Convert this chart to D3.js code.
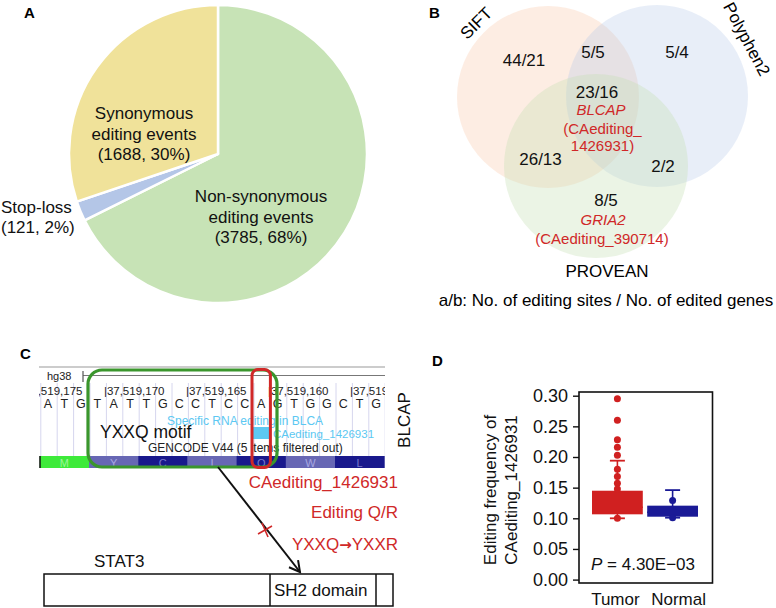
<!DOCTYPE html>
<html><head><meta charset="utf-8">
<script src="https://cdn.jsdelivr.net/npm/d3@7"></script>
<style>body{margin:0;background:#fff} svg{display:block} text{font-family:"Liberation Sans",Arial,sans-serif}</style>
</head><body>
<svg id="c" width="776" height="608"></svg>
<script>
// ---------------- DATA ----------------
const pieCategories = ["Non-synonymous editing events", "Stop-loss", "Synonymous editing events"];
const pieValues = [3785, 121, 1688];
const piePercents = ["68%", "2%", "30%"];

const vennSets = ["SIFT", "Polyphen2", "PROVEAN"];
const vennCounts = ["44/21", "5/5", "5/4", "23/16", "26/13", "2/2", "8/5"];
const vennGenes = ["BLCAP", "GRIA2"];
const vennSites = ["CAediting_1426931", "CAediting_390714"];

const bases = ["A","T","G","T","A","T","T","G","C","C","T","C","C","A","G","T","G","G","C","T","G"];
const aminoAcids = ["M","Y","C","I","Q","W","L"];
const coordLabels = ["|37,519,175","|37,519,170","|37,519,165","|37,519,160","|37,519,155"];

const boxGroups = ["Tumor", "Normal"];
const boxQ1 = [0.1065, 0.1026];
const boxMedian = [0.118, 0.110];
const boxQ3 = [0.145, 0.1206];
const boxLow = [0.100, 0.101];
const boxHigh = [0.194, 0.146];
const tumorPoints = [0.295, 0.260, 0.228, 0.216, 0.203, 0.180, 0.168, 0.157, 0.148, 0.100];
const normalPoints = [0.129, 0.101];
const yTicks = [0.00, 0.05, 0.10, 0.15, 0.20, 0.25, 0.30];
const pValueText = "4.30E\u221203";

// ---------------- DRAW ----------------
const svg = d3.select("#c");
const F = '"Liberation Sans",Arial,sans-serif';
const RED = "#d02828";

function label(t, x, y) {
  svg.append("text").attr("x", x).attr("y", y).attr("font-size", 15).attr("font-weight", "bold").text(t);
}
label("A", 24, 18); label("B", 429, 18); label("C", 20, 359); label("D", 432, 366);

// ---- Panel A: pie ----
const pieColors = ["#c7e3b6", "#b4c6e7", "#f0e29a"];
const pieGen = d3.pie().sort(null).value(d => d)(pieValues);
const arc = d3.arc().innerRadius(0).outerRadius(149);
const gA = svg.append("g").attr("transform", "translate(218,154)");
gA.selectAll("path").data(pieGen).join("path")
  .attr("d", arc).attr("fill", (d, i) => pieColors[i])
  .attr("stroke", "#fff").attr("stroke-width", 2.5).attr("stroke-linejoin", "round");

function multiline(lines, x, ys, anchor, size, fill, style) {
  lines.forEach((l, i) => {
    svg.append("text").attr("x", x).attr("y", ys[i]).attr("text-anchor", anchor)
      .attr("font-size", size).attr("fill", fill || "#111").attr("font-style", style || "normal").text(l);
  });
}
multiline(["Synonymous", "editing events", `(${pieValues[2]}, ${piePercents[2]})`], 144, [119, 139.5, 160], "middle", 17);
multiline(["Non-synonymous", "editing events", `(${pieValues[0]}, ${piePercents[0]})`], 261, [202, 223, 243], "middle", 17);
multiline(["Stop-loss", `(${pieValues[1]}, ${piePercents[1]})`], 1, [213, 233], "start", 17);

// ---- Panel B: Venn ----
const vennCircles = [
  {cx: 548, cy: 97, r: 91, fill: "#f8cbad", op: 0.34},
  {cx: 657, cy: 96, r: 91, fill: "#b4c7e7", op: 0.3},
  {cx: 596, cy: 166, r: 92, fill: "#c5e0b4", op: 0.34}
];
svg.append("g").selectAll("circle").data(vennCircles).join("circle")
  .attr("cx", d => d.cx).attr("cy", d => d.cy).attr("r", d => d.r)
  .attr("fill", d => d.fill).attr("fill-opacity", d => d.op);

svg.append("text").attr("transform", "translate(476,23) rotate(-45)").attr("y", 6)
  .attr("text-anchor", "middle").attr("font-size", 17).text(vennSets[0]);
svg.append("text").attr("transform", "translate(747,39) rotate(62)").attr("y", 6)
  .attr("text-anchor", "middle").attr("font-size", 17).text(vennSets[1]);
svg.append("text").attr("x", 607).attr("y", 277).attr("text-anchor", "middle").attr("font-size", 17).text(vennSets[2]);

const countPos = [[524, 66], [593, 57.5], [677, 57.5], [597, 98], [540.5, 165], [663, 172], [606, 206]];
vennCounts.forEach((c, i) => {
  svg.append("text").attr("x", countPos[i][0]).attr("y", countPos[i][1]).attr("text-anchor", "middle")
    .attr("font-size", 17).attr("fill", "#111").text(c);
});
multiline([vennGenes[0]], 601, [114.5], "middle", 15, RED, "italic");
const s0 = vennSites[0].split("_");
multiline([`(${s0[0]}_`, `${s0[1]})`], 602.5, [134, 151], "middle", 15, RED);
multiline([vennGenes[1]], 603, [224.5], "middle", 15, RED, "italic");
multiline([`(${vennSites[1]})`], 602, [243.5], "middle", 15, RED);
svg.append("text").attr("x", 606).attr("y", 306).attr("text-anchor", "middle").attr("font-size", 17)
  .text("a/b: No. of editing sites / No. of edited genes");

// ---- Panel C: genome browser ----
const trackL = 39.8, trackR = 384.2;
const xb = d3.scaleLinear().domain([0, bases.length]).range([trackL, trackR]);
const xaa = d3.scaleBand().domain(d3.range(aminoAcids.length)).range([trackL, trackR]);
svg.append("defs").append("clipPath").attr("id", "trk").append("rect")
  .attr("x", 39).attr("y", 360).attr("width", 346).attr("height", 120);
const gC = svg.append("g").attr("clip-path", "url(#trk)");

gC.selectAll("line.grid").data(d3.range(bases.length + 1)).join("line")
  .attr("x1", i => xb(i) + 1).attr("x2", i => xb(i) + 1).attr("y1", 383).attr("y2", 456)
  .attr("stroke", "#d6d6ee").attr("stroke-width", 1);
gC.append("line").attr("x1", 39).attr("x2", 385).attr("y1", 367).attr("y2", 367).attr("stroke", "#999").attr("stroke-width", 1.2);
gC.append("line").attr("x1", 83).attr("x2", 385).attr("y1", 375.5).attr("y2", 375.5).attr("stroke", "#777").attr("stroke-width", 1.2);
gC.append("line").attr("x1", 83).attr("x2", 83).attr("y1", 371).attr("y2", 382).attr("stroke", "#555").attr("stroke-width", 1.2);
gC.append("text").attr("x", 47).attr("y", 380).attr("font-size", 11).attr("fill", "#222").text("hg38");
coordLabels.forEach((t, k) => {
  const i = -1 + 5 * k;
  gC.append("text").attr("x", xb(i) - 1.5).attr("y", 395).attr("font-size", 11.5).attr("fill", "#222").text(t);
});
gC.selectAll("text.base").data(bases).join("text").attr("class", "base")
  .attr("x", (d, i) => xb(i + 0.5)).attr("y", 408).attr("text-anchor", "middle")
  .attr("font-size", 12.5).attr("fill", "#222").text(d => d);
gC.append("text").attr("x", 167).attr("y", 425).attr("font-size", 12).attr("fill", "#5cc8f2").text("Specific RNA editing in BLCA");
gC.append("rect").attr("x", xb(13)).attr("y", 427).attr("width", xb(14) - xb(13)).attr("height", 12).attr("fill", "#5cc8f2");
gC.append("text").attr("x", 273).attr("y", 437.5).attr("font-size", 11.5).attr("fill", "#5cc8f2").text(vennSites[0]);
svg.append("text").attr("x", 100).attr("y", 438).attr("font-size", 17.5).attr("fill", "#111").text("YXXQ motif");
gC.append("text").attr("x", 148).attr("y", 452).attr("font-size", 12).attr("fill", "#222").text("GENCODE V44 (5 items filtered out)");
const aaFill = (d, i) => i === 0 ? "#3eea3a" : (i % 2 === 1 ? "#6767b4" : "#19198c");
const aaText = (d, i) => i === 0 ? "#9cf59a" : (i % 2 === 1 ? "#a8a8e2" : "#7a7acc");
gC.selectAll("rect.aa").data(aminoAcids).join("rect").attr("class", "aa")
  .attr("x", (d, i) => xaa(i)).attr("y", 456).attr("width", xaa.bandwidth() + 0.5).attr("height", 12)
  .attr("fill", aaFill);
gC.selectAll("text.aa").data(aminoAcids).join("text").attr("class", "aa")
  .attr("x", (d, i) => xaa(i) + xaa.bandwidth() / 2).attr("y", 466.5).attr("text-anchor", "middle")
  .attr("font-size", 11).attr("fill", aaText).text(d => d);
gC.append("line").attr("x1", 40).attr("x2", 40).attr("y1", 456).attr("y2", 468).attr("stroke", "#111").attr("stroke-width", 1.5);

svg.append("rect").attr("x", 88).attr("y", 370).attr("width", 189).attr("height", 97).attr("rx", 14)
  .attr("fill", "none").attr("stroke", "#3a962c").attr("stroke-width", 3.2);
svg.append("rect").attr("x", xb(13) - 1).attr("y", 369.5).attr("width", xb(14) - xb(13) + 2).attr("height", 98).attr("rx", 6)
  .attr("fill", "none").attr("stroke", RED).attr("stroke-width", 3);

svg.append("text").attr("transform", "translate(410,420) rotate(-90)").attr("text-anchor", "middle")
  .attr("font-size", 17).attr("fill", "#111").text("BLCAP");

svg.append("text").attr("x", 398).attr("y", 488).attr("text-anchor", "end").attr("font-size", 17).attr("fill", RED).text(vennSites[0]);
svg.append("text").attr("x", 398).attr("y", 518).attr("text-anchor", "end").attr("font-size", 17).attr("fill", RED).text("Editing Q/R");
const yx = svg.append("text").attr("x", 398).attr("y", 550).attr("text-anchor", "end").attr("font-size", 17).attr("fill", RED);
yx.append("tspan").text("YXXQ");
yx.append("tspan").attr("font-family", '"DejaVu Sans"').attr("font-weight", "bold").attr("font-size", 15).text("\u2192");
yx.append("tspan").text("YXXR");

const a0 = [218, 467], a1 = [300, 572];
svg.append("line").attr("x1", a0[0]).attr("y1", a0[1]).attr("x2", a1[0]).attr("y2", a1[1])
  .attr("stroke", "#111").attr("stroke-width", 2);
const ang = Math.atan2(a1[1] - a0[1], a1[0] - a0[0]);
const hl = 12, ha = 0.5;
svg.append("polyline").attr("points", [
  [a1[0] - hl * Math.cos(ang - ha), a1[1] - hl * Math.sin(ang - ha)], a1,
  [a1[0] - hl * Math.cos(ang + ha), a1[1] - hl * Math.sin(ang + ha)]].map(p => p.join(",")).join(" "))
  .attr("fill", "none").attr("stroke", "#111").attr("stroke-width", 2);
svg.append("line").attr("x1", 258).attr("y1", 534).attr("x2", 272).attr("y2", 526).attr("stroke", RED).attr("stroke-width", 1.6);
svg.append("line").attr("x1", 262).attr("y1", 523).attr("x2", 268).attr("y2", 537).attr("stroke", RED).attr("stroke-width", 1.6);

svg.append("text").attr("x", 94).attr("y", 567).attr("font-size", 17).attr("fill", "#111").text("STAT3");
svg.append("rect").attr("x", 44).attr("y", 574).attr("width", 349).attr("height", 32).attr("fill", "none").attr("stroke", "#111").attr("stroke-width", 1.5);
svg.append("line").attr("x1", 270).attr("x2", 270).attr("y1", 574).attr("y2", 606).attr("stroke", "#111").attr("stroke-width", 1.5);
svg.append("line").attr("x1", 376).attr("x2", 376).attr("y1", 574).attr("y2", 606).attr("stroke", "#111").attr("stroke-width", 1.5);
svg.append("text").attr("x", 274).attr("y", 595.5).attr("font-size", 17).attr("fill", "#111").text("SH2 domain");

// ---- Panel D: box plot ----
const y = d3.scaleLinear().domain([0, 0.3]).range([579.6, 395.7]);
const xg = d3.scaleBand().domain(boxGroups).range([592, 698]).paddingInner(0.08);
const boxColors = ["#d02020", "#1a1a96"];
const labelShift = [-2, 6];
const gD = svg.append("g");
gD.append("rect").attr("x", 579).attr("y", 392).attr("width", 133.5).attr("height", 191)
  .attr("fill", "none").attr("stroke", "#111").attr("stroke-width", 1.6);
const yAxis = gD.append("g").attr("transform", "translate(579,0)")
  .call(d3.axisLeft(y).tickValues(yTicks).tickFormat(d3.format(".2f")).tickSize(6).tickPadding(5));
yAxis.select(".domain").remove();
yAxis.selectAll("line").attr("stroke", "#111").attr("stroke-width", 1.4);
yAxis.selectAll("text").attr("font-family", F).attr("font-size", 18).attr("fill", "#111");

boxGroups.forEach((g, i) => {
  const cx = xg(g) + xg.bandwidth() / 2, col = boxColors[i];
  gD.append("line").attr("x1", cx).attr("x2", cx).attr("y1", y(boxHigh[i])).attr("y2", y(boxLow[i]))
    .attr("stroke", col).attr("stroke-width", 1.6);
  [boxHigh[i], boxLow[i]].forEach(v => {
    gD.append("line").attr("x1", cx - 7.5).attr("x2", cx + 7.5).attr("y1", y(v)).attr("y2", y(v))
      .attr("stroke", col).attr("stroke-width", 1.8);
  });
  gD.append("rect").attr("x", xg(g)).attr("y", y(boxQ3[i])).attr("width", xg.bandwidth())
    .attr("height", y(boxQ1[i]) - y(boxQ3[i])).attr("fill", col);
  gD.append("line").attr("x1", xg(g)).attr("x2", xg(g) + xg.bandwidth()).attr("y1", y(boxMedian[i])).attr("y2", y(boxMedian[i]))
    .attr("stroke", col).attr("stroke-width", 1.5);
  const pts = i === 0 ? tumorPoints : normalPoints;
  gD.selectAll(null).data(pts).join("circle").attr("cx", cx).attr("cy", v => y(v)).attr("r", 3.5).attr("fill", col);
  gD.append("text").attr("x", cx + labelShift[i]).attr("y", 605).attr("text-anchor", "middle").attr("font-size", 17).attr("fill", "#111").text(g);
});
const pt = gD.append("text").attr("x", 591).attr("y", 570).attr("font-size", 17).attr("fill", "#111");
pt.append("tspan").attr("font-style", "italic").text("P");
pt.append("tspan").text(" = " + pValueText);
const yt = gD.append("text").attr("transform", "translate(0,490) rotate(-90)").attr("text-anchor", "middle").attr("font-size", 17).attr("fill", "#111");
yt.append("tspan").attr("x", 0).attr("y", 496).text("Editing frequency of");
yt.append("tspan").attr("x", 0).attr("y", 516.5).text(vennSites[0]);
</script>
</body></html>
